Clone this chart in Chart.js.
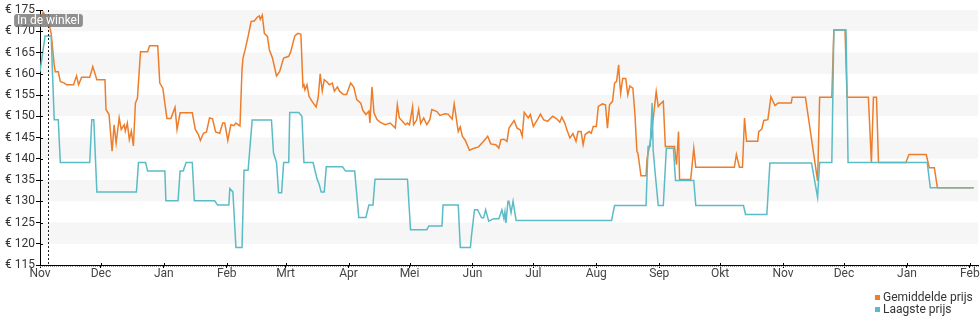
<!DOCTYPE html>
<html lang="nl">
<head>
<meta charset="utf-8">
<title>Prijsverloop</title>
<script src="https://cdn.jsdelivr.net/npm/chart.js@4.4.1/dist/chart.umd.min.js"></script>
<style>
  html, body { margin: 0; padding: 0; background: #fff; }
  #wrap { position: relative; width: 980px; height: 325px; }
  #legend { position: absolute; left: 875px; top: 291px; font: 12px Roboto, sans-serif; color: #333; }
  #legend .item { height: 12px; line-height: 12px; white-space: nowrap; }
  #legend .sw { display: inline-block; width: 5px; height: 5px; margin-right: 3px; vertical-align: 1px; }
</style>
</head>
<body>
<div id="wrap">
  <canvas id="priceChart"></canvas>
  <div id="legend">
    <div class="item"><span class="sw" style="background:#ee7d2a"></span>Gemiddelde prijs</div>
    <div class="item"><span class="sw" style="background:#5bbcc5"></span>Laagste prijs</div>
  </div>
</div>
<script>
// x values are days counted from 1 Nov
const monthStarts = [0, 30, 61, 92, 121, 152, 182, 213, 243, 274, 305, 335, 366, 396, 427, 458];
const monthLabels = ['Nov', 'Dec', 'Jan', 'Feb', 'Mrt', 'Apr', 'Mei', 'Jun', 'Jul', 'Aug', 'Sep', 'Okt', 'Nov', 'Dec', 'Jan', 'Feb'];
const xMax = 462;

const yMin = 115;
const yMax = 175;
const yStep = 5;

const inStoreDay = 4;
const inStoreLabel = 'In de winkel';

// Gemiddelde prijs
const avgDays = [
  0, 1.5, 4, 5.5, 7, 7.5, 9, 10, 12, 13,
  16.5, 18, 19, 20.5, 24.5, 26, 28, 32, 32.5, 34,
  35.5, 36.5, 37.5, 39, 40, 41.5, 42, 43, 44, 45,
  46, 47, 48, 49.5, 53, 54, 58, 59, 60.5, 62.5,
  64.5, 66.5, 67.5, 69, 75, 76.5, 78, 79, 80.5, 82,
  83.5, 85, 86.5, 88.5, 90, 91, 92.5, 94, 95.5, 96.5,
  98.5, 99.5, 100, 101, 102.5, 104, 105.5, 107, 108, 108.5,
  109.5, 110.5, 112, 113, 114.5, 116.5, 118, 120, 122.5, 123.5,
  125.5, 127, 128.5, 129.5, 130, 130.5, 131.5, 132.5, 134, 136,
  137, 138, 139, 140, 141.5, 142.5, 144, 145, 146.5, 147.5,
  149.5, 151, 153, 154.5, 156, 158, 159, 160.5, 162, 162.5,
  163.5, 164.5, 166, 167.5, 170, 172.5, 175, 176, 177, 178.5,
  180, 181, 182, 183.5, 184, 185.5, 186.5, 187.5, 189, 190.5,
  192, 193, 195.5, 197, 199.5, 201, 203, 204, 206, 207,
  208, 209.5, 211.5, 213.5, 216, 218.5, 220.5, 222, 224.5, 226,
  227, 228.5, 230, 231, 233.5, 235, 236.5, 237.5, 238.5, 240.5,
  241.5, 243, 245, 246.5, 248, 250, 252.5, 254.5, 256, 257,
  258.5, 259.5, 261, 262.5, 264, 265, 266.5, 267.5, 268.5, 270.5,
  271.5, 272.5, 274, 275, 277, 278.5, 279.5, 280.5, 282, 283,
  284, 285, 285.5, 286, 287, 288.5, 289.5, 290.5, 292, 293,
  294, 294.5, 296, 298.5, 299, 301, 303.5, 304.5, 306, 307,
  308, 312.5, 313.5, 314.5, 315, 320.5, 322, 323, 342, 343,
  344.5, 346, 347, 348, 353.5, 354, 355.5, 356.5, 358.5, 360,
  362, 363.5, 370, 370.5, 377, 383, 384, 390, 391, 396.5,
  397.5, 408, 409.5, 410.5, 412, 413, 426.5, 428, 436.5, 438,
  440.5, 442, 459.5
];
const avgPrices = [
  172, 174.5, 172.6, 169.5, 162, 160.5, 160.5, 158.2, 157.8, 157.4,
  157.4, 159.5, 157.4, 159.2, 159.2, 161.7, 158.6, 158.6, 151.6, 150.4,
  141.8, 148, 143.7, 149.6, 146.9, 148, 146.5, 148.4, 144.5, 146.5,
  143, 153.1, 154.3, 165.2, 165.2, 166.6, 166.6, 157.8, 156.6, 149.5,
  149.5, 152.1, 146.9, 150.8, 150.8, 146.9, 145.7, 144.3, 146, 146.3,
  149.6, 149.4, 146.3, 146, 148.4, 148.4, 144.3, 148, 147.8, 148.4,
  147.7, 161, 163.7, 165.6, 168.8, 172.3, 172.4, 173.3, 173.6, 172.8,
  173.8, 169.5, 168.8, 165.6, 163.7, 159.5, 160.5, 163.7, 164.1, 165.2,
  168.9, 169.5, 169.3, 157, 157.4, 156.2, 157.4, 154.7, 153.5, 152.2,
  154.3, 160, 155.9, 158.6, 158, 157.4, 157.8, 155.9, 156.9, 155.9,
  155.1, 155.1, 157.8, 156.9, 153.9, 153.1, 151.4, 150.4, 151.2, 148.4,
  156.9, 150.8, 149.2, 148.6, 148, 148.4, 147.2, 152.7, 149.6, 148.8,
  148, 148.4, 148, 152.2, 148, 149.1, 151.6, 148.3, 149.6, 148,
  149.2, 151.6, 151.1, 150.2, 150.6, 150.5, 149.3, 152.9, 146.4, 147.5,
  145.3, 144.3, 142, 142.4, 142.8, 144.1, 145.3, 143.5, 143.3, 142.5,
  144.5, 144.6, 144.1, 147.2, 149, 147.2, 146.8, 145.3, 150.9, 149.6,
  150.4, 147.6, 149.2, 150.5, 149.2, 148.8, 150, 149.4, 148.6, 149.8,
  148.4, 146.8, 144.9, 145.9, 144.1, 146.4, 146.4, 143.3, 145.7, 146.4,
  146, 147.6, 147.6, 152.3, 152.9, 152.7, 147.2, 152.7, 153.5, 157.8,
  158.2, 162.1, 158.2, 155.4, 158.9, 158.9, 155, 157.1, 156.6, 150.7,
  141.7, 141.3, 136, 136, 140, 145, 155.8, 152.3, 153.1, 153.5,
  142.9, 142.9, 138.6, 146.4, 135.1, 135.1, 142.5, 138, 138, 141,
  138, 138, 149.6, 144.1, 144.1, 146.4, 147, 149, 149.2, 154.6,
  152.5, 153.1, 153.1, 154.5, 154.5, 134.8, 154.5, 154.5, 170.3, 170.3,
  154.5, 154.5, 139.1, 154.5, 154.5, 139.1, 139.1, 141, 141, 137.9,
  137.9, 133.2, 133.2
];

// Laagste prijs
const lowDays = [
  0, 2.5, 5.5, 7, 9, 10, 24.5, 25.5, 26.5, 28,
  47.5, 48.5, 52, 53, 61.5, 62, 68, 69, 70.5, 72,
  75, 76, 86, 87.5, 93, 93.5, 95, 96.5, 99.5, 100.5,
  102.5, 104.5, 114, 115, 116.5, 117.5, 119, 120, 122.5, 123,
  127.5, 129, 130, 134.5, 136.5, 137.5, 138.5, 140, 141, 149,
  150.5, 155, 157, 160.5, 162, 164, 165, 181, 182.5, 190.5,
  191.5, 198, 198.5, 206, 207, 212, 212.5, 214, 215.5, 217.5,
  218.5, 219.5, 221, 223.5, 226, 227.5, 228.5, 229, 229.5, 230.5,
  231, 232, 233, 234.5, 281.5, 283, 298.5, 299.5, 300.5, 301.5,
  302, 303, 304.5, 307, 308.5, 312, 313, 322, 323, 346.5,
  347.5, 358, 359.5, 380, 383, 384, 390, 391, 397, 398,
  437, 438.5, 460
];
const lowPrices = [
  160.5, 168.9, 168.9, 149.2, 149.2, 139.1, 139.1, 149.2, 149.2, 132.2,
  132.2, 139.1, 139.1, 137.1, 137.1, 130.1, 130.1, 137.1, 137.1, 139.1,
  139.1, 130.1, 130.1, 129.1, 129.1, 133, 132.2, 119.1, 119.1, 137.3,
  137.3, 149.1, 149.1, 141.4, 139.1, 132, 132, 139.1, 139.1, 150.9,
  150.9, 150, 139.1, 139.1, 135.2, 134, 132.2, 132.2, 138.1, 138.1,
  137.1, 137.1, 126.2, 126.2, 129.1, 129.1, 135.2, 135.2, 123.3, 123.3,
  124.2, 124.2, 129.1, 129.1, 119.1, 119.1, 121.8, 128, 128, 126.1,
  126.1, 128, 125.3, 125.9, 125.9, 128, 125.9, 127.5, 124.9, 130,
  130, 127.3, 130, 125.5, 125.5, 129, 129, 142.9, 142.9, 153.1,
  142.1, 136.6, 129, 129, 142.5, 142.5, 134.9, 134.9, 129, 129,
  126.9, 126.9, 139, 139, 130.9, 139.1, 139.1, 170.3, 170.3, 139.1,
  139.1, 133.2, 133.2
];

const avgColor = '#ee7d2a';
const lowColor = '#5bbcc5';

function toPoints(days, prices) {
  return days.map((d, i) => ({ x: d, y: prices[i] }));
}

// alternating grey bands between the price ticks
const priceBands = {
  id: 'priceBands',
  beforeDraw(chart) {
    const { ctx, chartArea: a, scales: { y } } = chart;
    ctx.save();
    ctx.fillStyle = '#f6f6f6';
    for (let v = yMax; v > yMin; v -= 2 * yStep) {
      const top = y.getPixelForValue(v);
      const bottom = y.getPixelForValue(v - yStep);
      ctx.fillRect(a.left, top, a.right - a.left, bottom - top);
    }
    ctx.restore();
  }
};

// small tick marks on the inner side of the axes + daily marks under the x axis
const axisMarks = {
  id: 'axisMarks',
  afterDraw(chart) {
    const { ctx, chartArea: a, scales: { x, y } } = chart;
    ctx.save();
    ctx.strokeStyle = '#000';
    ctx.lineWidth = 1;
    ctx.beginPath();
    y.ticks.forEach(t => {
      const py = Math.round(y.getPixelForValue(t.value)) + 0.5;
      ctx.moveTo(a.left, py);
      ctx.lineTo(a.left + 3, py);
    });
    monthStarts.forEach(d => {
      const px = Math.round(x.getPixelForValue(d)) + 0.5;
      ctx.moveTo(px, a.bottom);
      ctx.lineTo(px, a.bottom - 2);
    });
    ctx.stroke();
    ctx.fillStyle = '#999';
    for (let d = 0; d <= xMax; d++) {
      ctx.fillRect(Math.round(x.getPixelForValue(d)), a.bottom + 1, 1, 1);
    }
    ctx.restore();
  }
};

// dotted line where the product arrived in store, with its grey label
const inStoreMarker = {
  id: 'inStoreMarker',
  afterDatasetsDraw(chart) {
    const { ctx, chartArea: a, scales: { x } } = chart;
    const px = Math.round(x.getPixelForValue(inStoreDay)) + 0.5;
    ctx.save();
    ctx.strokeStyle = '#222';
    ctx.lineWidth = 1;
    ctx.setLineDash([2, 2]);
    ctx.beginPath();
    ctx.moveTo(px, a.top);
    ctx.lineTo(px, a.bottom);
    ctx.stroke();
    ctx.setLineDash([]);

    ctx.font = '12px Roboto';
    const w = ctx.measureText(inStoreLabel).width + 6;
    const h = 13;
    const bx = px - w / 2;
    const by = a.top + 4;
    ctx.fillStyle = 'rgba(125,125,125,0.85)';
    ctx.beginPath();
    ctx.roundRect(bx, by, w, h, 3);
    ctx.fill();
    ctx.fillStyle = '#fff';
    ctx.textAlign = 'center';
    ctx.textBaseline = 'middle';
    ctx.fillText(inStoreLabel, px, by + h / 2 + 0.5);
    ctx.restore();
  }
};

const tickFont = { family: 'Roboto', size: 12 };

new Chart(document.getElementById('priceChart'), {
  type: 'line',
  data: {
    datasets: [
      {
        label: 'Gemiddelde prijs',
        data: toPoints(avgDays, avgPrices),
        borderColor: avgColor,
        backgroundColor: avgColor,
        borderWidth: 1.5,
        pointRadius: 0,
        tension: 0,
        order: 1
      },
      {
        label: 'Laagste prijs',
        data: toPoints(lowDays, lowPrices),
        borderColor: lowColor,
        backgroundColor: lowColor,
        borderWidth: 1.5,
        pointRadius: 0,
        tension: 0,
        order: 0
      }
    ]
  },
  options: {
    responsive: true,
    maintainAspectRatio: false,
    animation: false,
    layout: { padding: { top: 10, right: 2, left: 0, bottom: 0 } },
    plugins: {
      legend: { display: false },
      tooltip: { enabled: false }
    },
    scales: {
      x: {
        type: 'linear',
        min: 0,
        max: xMax,
        border: { display: true, color: '#000', width: 1 },
        grid: { display: true, drawOnChartArea: false, drawTicks: true, tickLength: 3, color: '#000' },
        ticks: {
          autoSkip: false,
          maxRotation: 0,
          padding: -1,
          color: '#444',
          font: tickFont,
          callback: (value, index) => monthLabels[index]
        },
        afterBuildTicks: (scale) => {
          scale.ticks = monthStarts.map(v => ({ value: v }));
        },
        afterFit: (scale) => {
          scale.height = 60;
          scale.paddingLeft = 0;
          scale.paddingRight = 0;
        }
      },
      y: {
        min: yMin,
        max: yMax,
        border: { display: true, color: '#000', width: 1 },
        grid: { display: true, drawOnChartArea: false, drawTicks: true, tickLength: 4, color: '#000' },
        ticks: {
          stepSize: yStep,
          padding: 1,
          color: '#333',
          font: tickFont,
          callback: (value) => '€ ' + value
        },
        afterFit: (scale) => {
          scale.width = 40;
        }
      }
    }
  },
  plugins: [priceBands, axisMarks, inStoreMarker]
});
</script>
</body>
</html>
